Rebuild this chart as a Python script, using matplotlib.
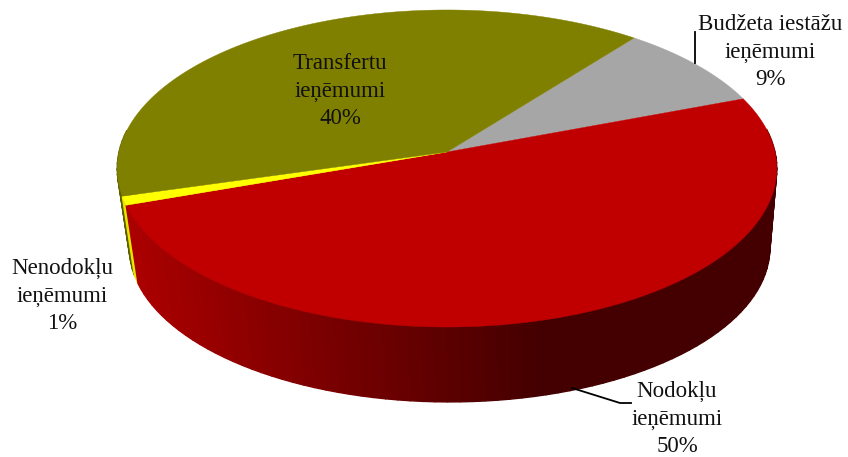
import numpy as np
import matplotlib.pyplot as plt
from matplotlib.colors import to_rgb

plt.rcParams['font.family'] = ['Liberation Serif', 'DejaVu Serif']

# data, going clockwise from the olive/grey border
names = ['Budžeta iestāžu\nieņēmumi\n9%', 'Nodokļu\nieņēmumi\n50%',
         'Nenodokļu\nieņēmumi\n1%', 'Transfertu\nieņēmumi\n40%']
values = [8.7, 50.4, 0.9, 40.0]
top_colors = ['#a6a6a6', '#c00000', '#ffff00', '#808000']
side_left = ['#808080', '#aa0000', '#e6e600', '#5e5e00']
side_right = ['#808080', '#440000', '#e6e600', '#5e5e00']

label_x = [770, 677, 62, 340]
label_y = [52, 419, 296, 91]

start = 51.9  # degrees

# pie in perspective, pixel units
cx, cy = 447, 152
a, b, k = 328, 156.8, 0.104
depth_x, depth_y, depth_s = 2.6, 80, 0.971


def rim(th, dx=0.0, dy=0.0, s=1.0):
    w = 1 + k * np.sin(th)
    return cx + dx + s * a * np.cos(th) / w, cy + dy - s * b * np.sin(th) / w


def mix(c1, c2, t):
    c1, c2 = np.array(to_rgb(c1)), np.array(to_rgb(c2))
    return tuple(c1 + (c2 - c1) * np.clip(t, 0, 1))


fig = plt.figure(figsize=(8.48, 4.57), dpi=100)
ax = fig.add_axes([0, 0, 1, 1])
ax.set_xlim(0, 848)
ax.set_ylim(457, 0)
ax.axis('off')

edges = start - np.cumsum([0] + values) * 3.6

# walls first, the red one goes last so it sits in front
for i in [3, 2, 0, 1]:
    n = max(int(abs(edges[i + 1] - edges[i]) / 2), 1)
    th = np.radians(np.linspace(edges[i], edges[i + 1], n + 1))
    for j in range(n):
        t1 = th[j:j + 2]
        x1, y1 = rim(t1)
        x2, y2 = rim(t1, depth_x, depth_y, depth_s)
        if np.sin(t1.mean()) > 0.15:
            continue
        c = mix(side_left[i], side_right[i], (x1.mean() - 130) / 410)
        ax.fill([x1[0], x1[1], x2[1], x2[0]], [y1[0], y1[1], y2[1], y2[0]],
                color=c, lw=1.0, zorder=2)

# top of each slice
for i in range(len(values)):
    th = np.radians(np.linspace(edges[i], edges[i + 1], 200))
    x, y = rim(th)
    ax.fill(np.r_[cx, x], np.r_[cy, y], color=top_colors[i], lw=0.3, zorder=3)

for i in range(len(names)):
    ax.text(label_x[i], label_y[i], names[i], ha='center', va='center',
            fontsize=16.5, linespacing=1.42, color='#111111', zorder=5)

# leader lines
ax.plot([695, 695], [32, 63], color='black', lw=1.3, zorder=4)
ax.plot([572, 620, 631], [388, 403, 403], color='black', lw=1.3, zorder=4)

plt.savefig('out.png', dpi=100)
